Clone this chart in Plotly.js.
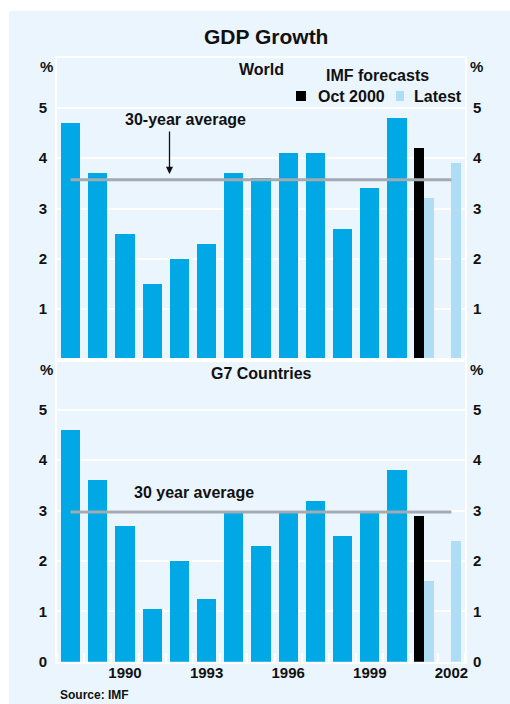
<!DOCTYPE html>
<html>
<head>
<meta charset="utf-8">
<script src="https://cdn.plot.ly/plotly-3.0.1.min.js"></script>
<style>html,body{margin:0;padding:0;background:#fff;}#chart{width:510px;height:704px;}</style>
</head>
<body>
<div id="chart"></div>
<script>
// ---- data ----
const years = [1988,1989,1990,1991,1992,1993,1994,1995,1996,1997,1998,1999,2000];
const worldActual = [4.7,3.7,2.5,1.5,2.0,2.3,3.7,3.6,4.1,4.1,2.6,3.4,4.8];
const g7Actual    = [4.6,3.6,2.7,1.05,2.0,1.25,3.0,2.3,3.0,3.2,2.5,3.0,3.8];
const octYears = [2001];
const worldOct2000 = [4.2];
const g7Oct2000 = [2.9];
const latestYears = [2001,2002];
const worldLatest = [3.2,3.9];
const g7Latest = [1.6,2.4];
const avgSpan = [1988,2002];
const worldAvg = 3.57;
const g7Avg = 2.97;
const xTickVals = [1990,1993,1996,1999,2002];
const xTickText = ['1990','1993','1996','1999','2002'];
const topYTicks = [1,2,3,4,5];
const botYTicks = [0,1,2,3,4,5];

// ---- style ----
const W = 510, H = 704;
const px = v => v / W;
const py = v => 1 - v / H;
const BLUE = '#00A9E6', LIGHT = '#B0DDF6', BG = '#EBF5FE';
const FONT = 'Liberation Sans, Arial, Helvetica, sans-serif';
const tickFont = {family: FONT, size: 15, color: '#111', weight: 'bold'};

function bars(x, y, xa, ya, color, width, offset) {
  return {type: 'bar', x: x, y: y, xaxis: xa, yaxis: ya, width: width, offset: offset,
    marker: {color: color, line: {width: 0}}, hoverinfo: 'x+y', showlegend: false};
}
function avgLine(val, xa, ya) {
  return {type: 'scatter', mode: 'lines', x: avgSpan, y: avgSpan.map(() => val), xaxis: xa, yaxis: ya,
    line: {color: '#A3AAB1', width: 3}, showlegend: false, hoverinfo: 'y'};
}
// invisible companion trace so the right-hand mirror axis gets drawn
function ghost(x, y, xa, ya) {
  return {type: 'scatter', mode: 'markers', x: x, y: y, xaxis: xa, yaxis: ya,
    marker: {opacity: 0, size: 1}, showlegend: false, hoverinfo: 'skip'};
}

const traces = [
  bars(years, worldActual, 'x', 'y', BLUE, 0.7, -0.35),
  bars(octYears, worldOct2000, 'x', 'y', '#000', 0.36, -0.36),
  bars(latestYears, worldLatest, 'x', 'y', LIGHT, 0.35, 0),
  avgLine(worldAvg, 'x', 'y'),
  ghost(years, worldActual, 'x', 'y3'),
  bars(years, g7Actual, 'x2', 'y2', BLUE, 0.7, -0.35),
  bars(octYears, g7Oct2000, 'x2', 'y2', '#000', 0.36, -0.36),
  bars(latestYears, g7Latest, 'x2', 'y2', LIGHT, 0.35, 0),
  avgLine(g7Avg, 'x2', 'y2'),
  ghost(years, g7Actual, 'x2', 'y4')
];

const xDom = [px(57), px(465)];
const topDom = [py(359.5), py(57.5)];
const botDom = [py(661.7), py(359.5)];

const frame = {showline: true, linecolor: '#fff', linewidth: 2, mirror: true, zeroline: false};

const layout = {
  width: W, height: H,
  margin: {l: 0, r: 0, t: 0, b: 0},
  paper_bgcolor: '#fff',
  plot_bgcolor: 'rgba(0,0,0,0)',
  showlegend: false,
  bargap: 0,
  xaxis: Object.assign({domain: xDom, range: [1987.5, 2002.5], anchor: 'y', showticklabels: false,
    showgrid: false, ticks: '', fixedrange: true}, frame),
  xaxis2: Object.assign({domain: xDom, range: [1987.5, 2002.5], anchor: 'y2', tickmode: 'array',
    tickvals: xTickVals, ticktext: xTickText, ticks: '', showgrid: false, tickfont: tickFont,
    ticklabelstandoff: -4,
    minor: {tick0: 1987.5, dtick: 1, ticks: 'inside', ticklen: 9, tickwidth: 2, tickcolor: '#fff', showgrid: false}
  }, frame),
  yaxis: Object.assign({domain: topDom, range: [0, 6], anchor: 'x', tickmode: 'array', tickvals: topYTicks,
    gridcolor: '#fff', gridwidth: 2, ticks: '', tickfont: tickFont, ticklabelstandoff: 5}, frame),
  yaxis3: {overlaying: 'y', side: 'right', anchor: 'x', range: [0, 6], tickmode: 'array', tickvals: topYTicks,
    showgrid: false, zeroline: false, showline: false, ticks: '', tickfont: tickFont, ticklabelstandoff: 7},
  yaxis2: Object.assign({domain: botDom, range: [0, 6], anchor: 'x2', tickmode: 'array', tickvals: botYTicks,
    gridcolor: '#fff', gridwidth: 2, ticks: '', tickfont: tickFont, ticklabelstandoff: 5}, frame),
  yaxis4: {overlaying: 'y2', side: 'right', anchor: 'x2', range: [0, 6], tickmode: 'array', tickvals: botYTicks,
    showgrid: false, zeroline: false, showline: false, ticks: '', tickfont: tickFont, ticklabelstandoff: 7},
  shapes: [
    {type: 'rect', xref: 'paper', yref: 'paper', x0: px(9), x1: 1, y0: 0, y1: py(11),
      fillcolor: BG, line: {width: 0}, layer: 'below'},
    {type: 'rect', xref: 'paper', yref: 'paper', x0: px(296), x1: px(306), y0: py(101), y1: py(91),
      fillcolor: '#000', line: {width: 0}},
    {type: 'rect', xref: 'paper', yref: 'paper', x0: px(396), x1: px(404), y0: py(101), y1: py(91),
      fillcolor: LIGHT, line: {width: 0}}
  ],
  annotations: []
};

function txt(t, x, y, size, xanchor) {
  layout.annotations.push({text: t, xref: 'paper', yref: 'paper', x: px(x), y: py(y),
    xanchor: xanchor || 'center', yanchor: 'middle', showarrow: false,
    font: {family: FONT, size: size, color: '#111', weight: 'bold'}});
}
txt('GDP Growth', 266, 36, 21);
txt('World', 261, 70, 16);
txt('IMF forecasts', 377, 75, 16);
txt('Oct 2000', 316, 96, 16, 'left');
txt('Latest', 412, 96, 16, 'left');
txt('30-year average', 185, 120, 16);
txt('G7 Countries', 261, 373, 16);
txt('30 year average', 194, 492, 16);
txt('%', 46.5, 66, 15);
txt('%', 476.5, 66, 15);
txt('%', 46.5, 370, 15);
txt('%', 476.5, 369, 15);
txt('Source: IMF', 58, 695, 12, 'left');
layout.annotations.push({text: '', xref: 'paper', yref: 'paper', x: px(169.5), y: py(174),
  ax: 0, ay: -44, showarrow: true, arrowhead: 2, arrowsize: 1.1, arrowwidth: 1.3, arrowcolor: '#111'});

Plotly.newPlot('chart', traces, layout, {staticPlot: true, displayModeBar: false});
</script>
</body>
</html>
